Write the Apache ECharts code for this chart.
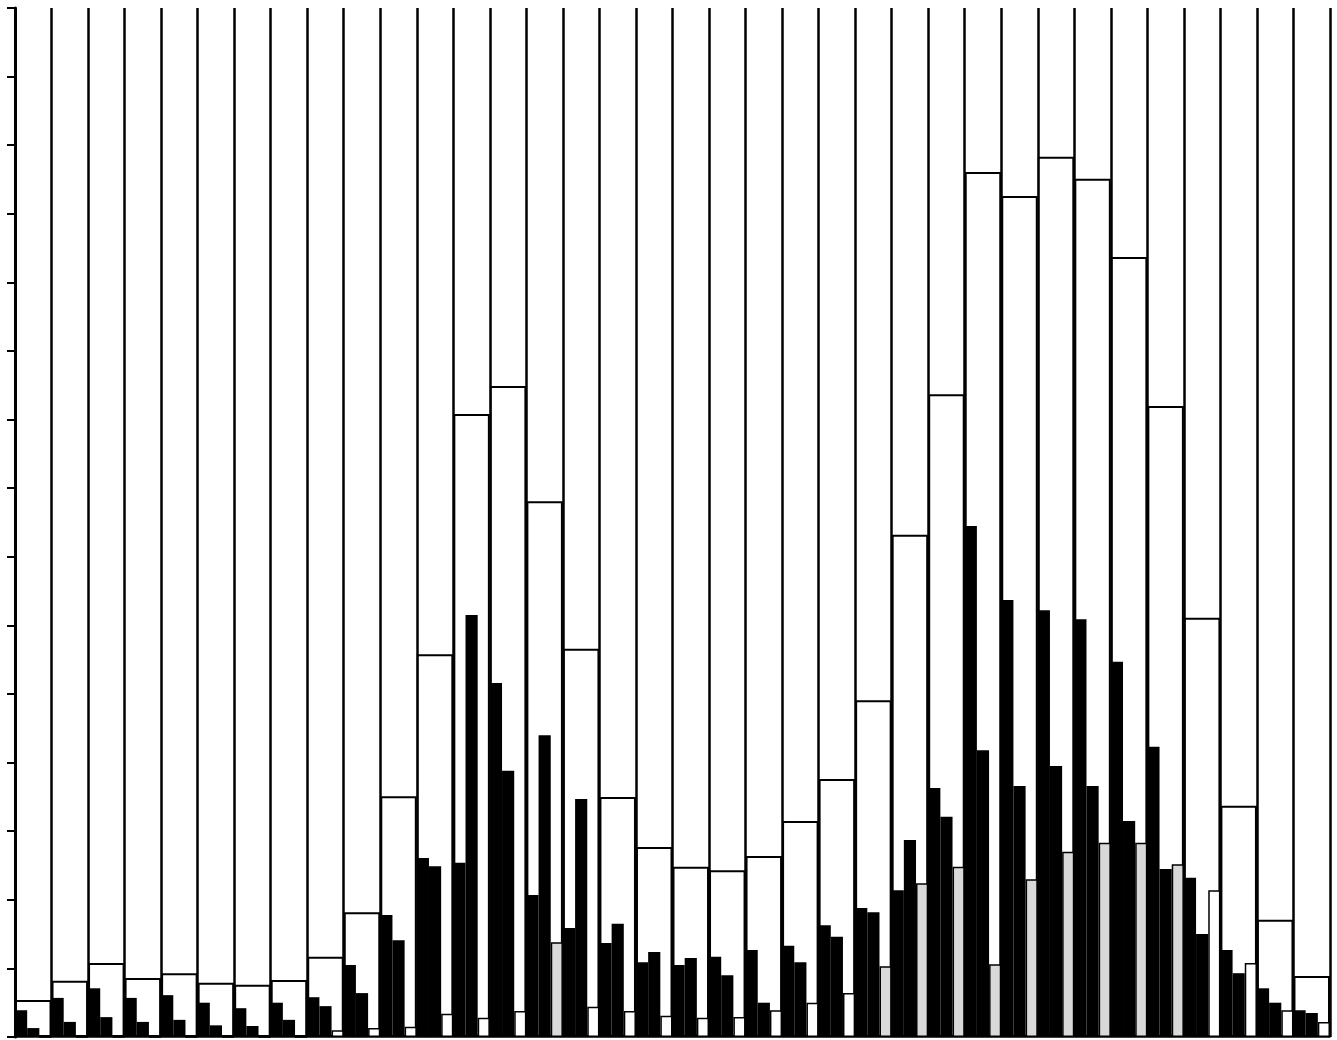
<!DOCTYPE html>
<html>
<head>
<meta charset="utf-8">
<script src="https://cdn.jsdelivr.net/npm/echarts@6/dist/echarts.min.js"></script>
<style>
  html, body { margin: 0; padding: 0; background: #ffffff; }
  #chart { width: 1337px; height: 1040px; }
</style>
</head>
<body>
<div id="chart"></div>
<script>
// ---- data ----
const categories = ['1','2','3','4','5','6','7','8','9','10','11','12','13','14','15','16','17','18',
  '19','20','21','22','23','24','25','26','27','28','29','30','31','32','33','34','35','36'];

// tall outlined (white) bar per group
const totalValues = [0.54, 0.82, 1.08, 0.86, 0.93, 0.79, 0.76, 0.83, 1.17, 1.82, 3.51, 5.58,
  9.08, 9.49, 7.81, 5.66, 3.50, 2.77, 2.48, 2.43, 2.64, 3.15, 3.76, 4.91,
  7.32, 9.37, 12.61, 12.26, 12.83, 12.51, 11.37, 9.20, 6.11, 3.37, 1.71, 0.89];

// first black bar
const seriesA = [0.39, 0.57, 0.71, 0.57, 0.61, 0.50, 0.42, 0.50, 0.58, 1.05, 1.78, 2.61,
  2.54, 5.16, 2.07, 1.59, 1.37, 1.09, 1.05, 1.17, 1.27, 1.33, 1.63, 1.88,
  2.14, 3.63, 7.45, 6.37, 6.22, 6.09, 5.47, 4.23, 2.32, 1.27, 0.71, 0.39];

// second black bar
const seriesB = [0.13, 0.22, 0.29, 0.22, 0.25, 0.17, 0.16, 0.25, 0.45, 0.64, 1.41, 2.49,
  6.15, 3.88, 4.40, 3.47, 1.65, 1.24, 1.15, 0.90, 0.50, 1.09, 1.46, 1.82,
  2.87, 3.21, 4.18, 3.66, 3.95, 3.66, 3.15, 2.45, 1.50, 0.93, 0.50, 0.35];

// third (outlined) bar
const seriesC = [0, 0, 0, 0, 0, 0, 0, 0, 0.10, 0.13, 0.15, 0.34,
  0.28, 0.38, 1.38, 0.44, 0.38, 0.31, 0.28, 0.29, 0.39, 0.50, 0.64, 1.03,
  2.24, 2.48, 1.06, 2.30, 2.70, 2.83, 2.83, 2.52, 2.14, 1.08, 0.39, 0.22];

// which third bars are stippled (1) rather than plain (0)
const seriesCShaded = [0,0,0,0,0,0,0,0,0,0,0,0, 0,0,1,0,0,0,0,0,0,0,0,1, 1,1,1,1,1,1,1,1,0,0,0,0];

const yMin = 0, yMax = 15, yStep = 1;

// ---- chart ----
const chart = echarts.init(document.getElementById('chart'), null, { renderer: 'canvas' });

const cData = seriesC.map((v, i) => ({
  value: v,
  itemStyle: { color: seriesCShaded[i] ? '#d9d9d9' : '#ffffff' }
}));

const option = {
  animation: false,
  backgroundColor: '#ffffff',
  grid: { left: 15, right: 7, top: 8, bottom: 3, containLabel: false },
  xAxis: [
    {
      type: 'category',
      data: categories,
      boundaryGap: true,
      axisLine: { show: true, lineStyle: { color: '#000', width: 1.5 } },
      axisTick: { show: false },
      axisLabel: { show: false },
      splitLine: { show: true, interval: 0, lineStyle: { color: '#000', width: 2.5 } }
    },
    {
      type: 'category',
      data: categories,
      boundaryGap: true,
      show: false
    }
  ],
  yAxis: {
    type: 'value',
    min: yMin,
    max: yMax,
    interval: yStep,
    axisLine: { show: true, lineStyle: { color: '#000', width: 3 } },
    axisTick: { show: true, inside: false, length: 8, lineStyle: { color: '#000', width: 2 } },
    axisLabel: { show: false },
    splitLine: { show: false }
  },
  series: [
    {
      name: 'total',
      type: 'bar',
      xAxisIndex: 0,
      data: totalValues,
      barWidth: '100%',
      itemStyle: { color: '#ffffff', borderColor: '#000', borderWidth: 2 },
      z: 1
    },
    {
      name: 'A',
      type: 'bar',
      xAxisIndex: 1,
      data: seriesA,
      barGap: '0%',
      barCategoryGap: '0%',
      itemStyle: { color: '#000000' },
      z: 2
    },
    {
      name: 'B',
      type: 'bar',
      xAxisIndex: 1,
      data: seriesB,
      barGap: '0%',
      barCategoryGap: '0%',
      itemStyle: { color: '#000000' },
      z: 2
    },
    {
      name: 'C',
      type: 'bar',
      xAxisIndex: 1,
      data: cData,
      barGap: '0%',
      barCategoryGap: '0%',
      itemStyle: { borderColor: '#000', borderWidth: 1.5 },
      z: 2
    }
  ]
};

chart.setOption(option);
</script>
</body>
</html>
